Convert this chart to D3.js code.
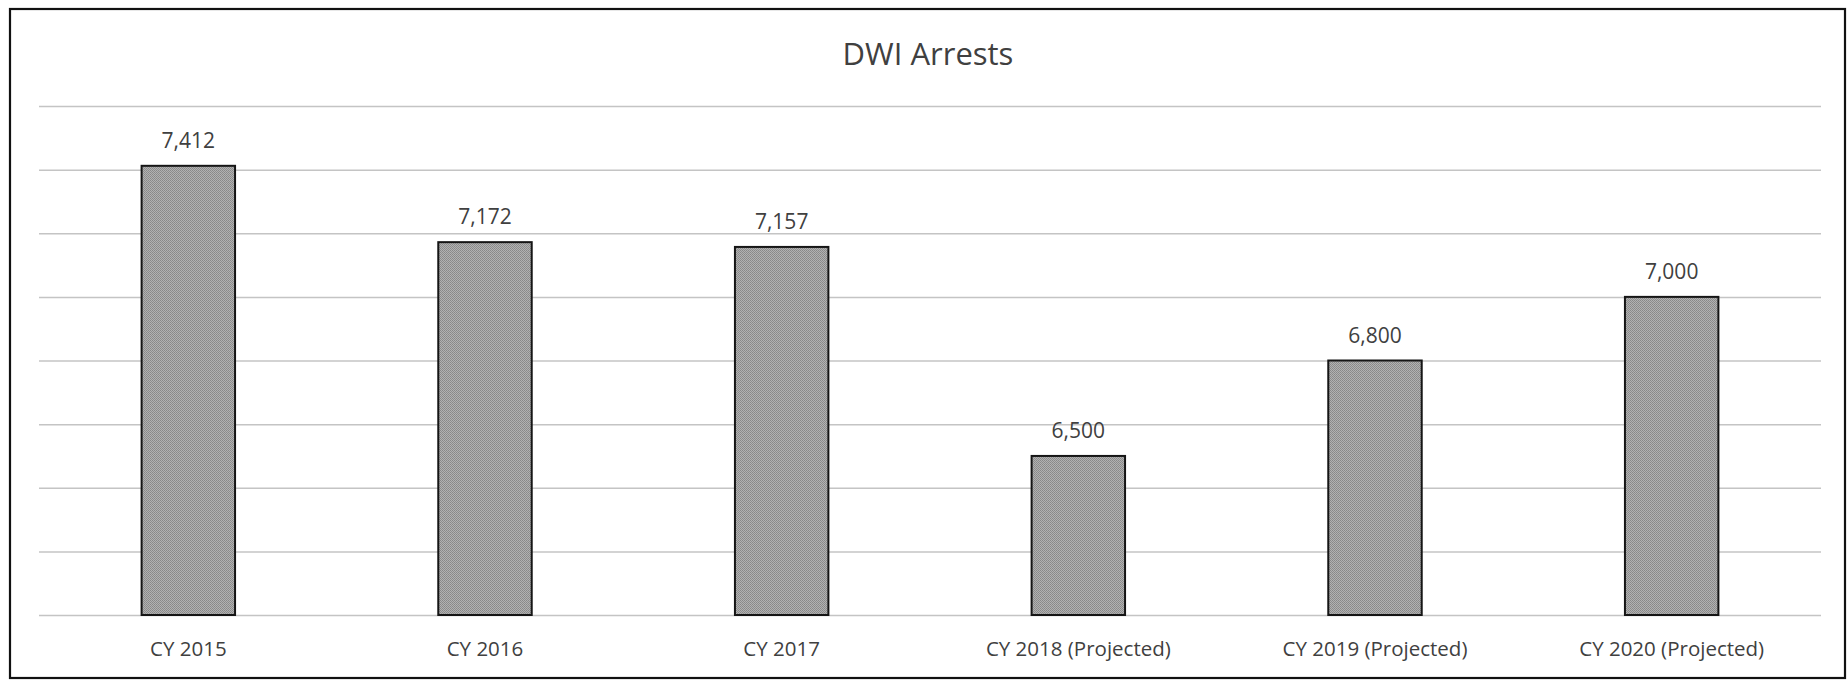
<!DOCTYPE html>
<html>
<head>
<meta charset="utf-8">
<script src="https://cdn.jsdelivr.net/npm/d3@7"></script>
<style>
  html, body { margin: 0; padding: 0; background: #fff; }
  svg { display: block; }
</style>
</head>
<body>
<svg id="chart" width="1848" height="682"></svg>
<script>
// DWI arrests per calendar year (2018-2020 are projections)
const categories = ["CY 2015", "CY 2016", "CY 2017", "CY 2018 (Projected)", "CY 2019 (Projected)", "CY 2020 (Projected)"];
const arrests = [7412, 7172, 7157, 6500, 6800, 7000];
const gridValues = [6000, 6200, 6400, 6600, 6800, 7000, 7200, 7400, 7600];
const chartTitle = "DWI Arrests";

const W = 1848, H = 682;
const margin = { top: 106, right: 28, bottom: 67, left: 40 };
const svg = d3.select("#chart");
const font = "'Open Sans', 'Liberation Sans', sans-serif";
const textColor = "#404040";

// Fine dithered gray fill for the bars
const defs = svg.append("defs");
const pat = defs.append("pattern")
  .attr("id", "dither")
  .attr("patternUnits", "userSpaceOnUse")
  .attr("width", 2).attr("height", 2);
pat.append("rect").attr("width", 2).attr("height", 2).attr("fill", "#b2b2b2");
pat.append("rect").attr("x", 0).attr("y", 0).attr("width", 1).attr("height", 1).attr("fill", "#888");
pat.append("rect").attr("x", 1).attr("y", 1).attr("width", 1).attr("height", 1).attr("fill", "#8e8e8e");

// Outer frame
svg.append("rect")
  .attr("x", 10).attr("y", 9)
  .attr("width", 1835).attr("height", 669)
  .attr("fill", "#fff")
  .attr("stroke", "#111").attr("stroke-width", 2.2);

const x = d3.scaleBand()
  .domain(categories)
  .range([margin.left, W - margin.right])
  .paddingInner(0.685)
  .paddingOuter(0.3425);

const y = d3.scaleLinear()
  .domain([d3.min(gridValues), d3.max(gridValues)])
  .range([H - margin.bottom, margin.top]);

// Horizontal gridlines
const grid = svg.append("g")
  .attr("transform", `translate(${margin.left - 1},0)`)
  .call(d3.axisLeft(y)
    .tickValues(gridValues)
    .tickSize(-(W - margin.right - margin.left + 2))
    .tickFormat(""));
grid.select(".domain").remove();
grid.selectAll(".tick line")
  .attr("stroke", "#c4c4c4")
  .attr("stroke-width", 1.5);

// Title
svg.append("text")
  .attr("x", 928).attr("y", 65)
  .attr("text-anchor", "middle")
  .attr("font-family", font)
  .attr("font-size", 31)
  .attr("fill", textColor)
  .text(chartTitle);

const data = categories.map((c, i) => ({ cat: c, value: arrests[i] }));

// Bars
svg.append("g").selectAll("rect")
  .data(data)
  .join("rect")
  .attr("x", d => x(d.cat))
  .attr("y", d => y(d.value))
  .attr("width", x.bandwidth())
  .attr("height", d => y(gridValues[0]) - y(d.value))
  .attr("fill", "url(#dither)")
  .attr("stroke", "#151515")
  .attr("stroke-width", 2);

// Value labels above bars
const fmt = d3.format(",");
svg.append("g").selectAll("text")
  .data(data)
  .join("text")
  .attr("x", d => x(d.cat) + x.bandwidth() / 2)
  .attr("y", d => y(d.value) - 18)
  .attr("text-anchor", "middle")
  .attr("font-family", font)
  .attr("font-size", 21)
  .attr("fill", textColor)
  .text(d => fmt(d.value));

// Category axis
const xAxis = svg.append("g")
  .attr("transform", `translate(0,${y(gridValues[0])})`)
  .call(d3.axisBottom(x).tickSize(0).tickPadding(0));
xAxis.select(".domain").remove();
xAxis.selectAll("text")
  .attr("y", 41)
  .attr("dy", 0)
  .attr("font-family", font)
  .attr("font-size", 20.5)
  .attr("fill", textColor);
</script>
</body>
</html>
